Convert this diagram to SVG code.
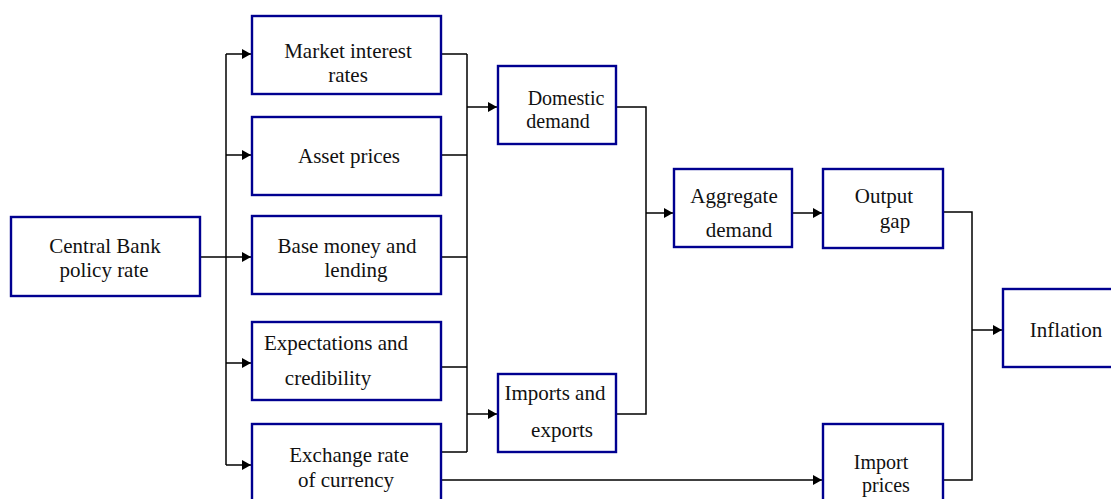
<svg xmlns="http://www.w3.org/2000/svg" width="1111" height="499" viewBox="0 0 1111 499">
<style>
.box{fill:#fff;stroke:#000090;stroke-width:2.4}
.t{font-family:"Liberation Serif","Times New Roman",serif;font-size:21px;fill:#111;text-anchor:middle}
.c{fill:none;stroke:#000;stroke-width:1.5}
.a{marker-end:url(#arr)}
</style>
<defs>
<marker id="arr" markerUnits="userSpaceOnUse" markerWidth="10" markerHeight="11" refX="9" refY="5.5" orient="auto">
<path d="M0,0.5 L9,5.5 L0,10.5 z" fill="#000"/>
</marker>
</defs>
<rect width="1111" height="499" fill="#fff"/>
<g id="connectors">
<path class="c" d="M200,257 H226"/>
<path class="c" d="M226,54 V465"/>
<path class="c a" d="M226,54 H251"/>
<path class="c a" d="M226,155 H251"/>
<path class="c a" d="M226,257 H251"/>
<path class="c a" d="M226,363 H251"/>
<path class="c a" d="M226,465 H251"/>
<path class="c" d="M442,54 H467 M442,155 H467 M442,257 H467 M442,367 H467 M442,452 H467 M467,54 V452"/>
<path class="c a" d="M467,107 H497"/>
<path class="c a" d="M467,414 H497"/>
<path class="c" d="M617,107 H646 V414 H617"/>
<path class="c a" d="M646,213 H673"/>
<path class="c a" d="M793,213 H822"/>
<path class="c a" d="M442,480 H822"/>
<path class="c" d="M944,212 H972 V480 H944"/>
<path class="c a" d="M972,330 H1002"/>
</g>
<g id="central-bank">
<rect class="box" x="11" y="217" width="189" height="79"/>
<text class="t" x="105" y="253">Central Bank</text>
<text class="t" x="104" y="277">policy rate</text>
</g>
<g id="market-interest-rates">
<rect class="box" x="252" y="16" width="189" height="78"/>
<text class="t" x="348" y="58">Market interest</text>
<text class="t" x="348" y="82">rates</text>
</g>
<g id="asset-prices">
<rect class="box" x="252" y="117" width="189" height="78"/>
<text class="t" x="349" y="163">Asset prices</text>
</g>
<g id="base-money">
<rect class="box" x="252" y="216" width="189" height="78"/>
<text class="t" x="347" y="253">Base money and</text>
<text class="t" x="356" y="277">lending</text>
</g>
<g id="expectations">
<rect class="box" x="252" y="322" width="189" height="78"/>
<text class="t" x="336" y="350">Expectations and</text>
<text class="t" x="328" y="385">credibility</text>
</g>
<g id="exchange-rate">
<rect class="box" x="252" y="424" width="189" height="82"/>
<text class="t" x="349" y="462">Exchange rate</text>
<text class="t" x="346" y="487">of currency</text>
</g>
<g id="domestic-demand">
<rect class="box" x="498" y="66" width="118" height="78"/>
<text class="t" x="566" y="105" style="font-size:20px">Domestic</text>
<text class="t" x="558" y="128" style="font-size:20px">demand</text>
</g>
<g id="imports-exports">
<rect class="box" x="498" y="374" width="118" height="78"/>
<text class="t" x="555" y="400">Imports and</text>
<text class="t" x="562" y="437">exports</text>
</g>
<g id="aggregate-demand">
<rect class="box" x="674" y="169" width="118" height="78"/>
<text class="t" x="734" y="203">Aggregate</text>
<text class="t" x="739" y="237">demand</text>
</g>
<g id="output-gap">
<rect class="box" x="823" y="169" width="120" height="79"/>
<text class="t" x="884" y="203">Output</text>
<text class="t" x="895" y="228">gap</text>
</g>
<g id="import-prices">
<rect class="box" x="823" y="424" width="120" height="82"/>
<text class="t" x="881" y="469" style="font-size:20px">Import</text>
<text class="t" x="886" y="492" style="font-size:20px">prices</text>
</g>
<g id="inflation">
<rect class="box" x="1003" y="289" width="120" height="78"/>
<text class="t" x="1066" y="337">Inflation</text>
</g>
</svg>
